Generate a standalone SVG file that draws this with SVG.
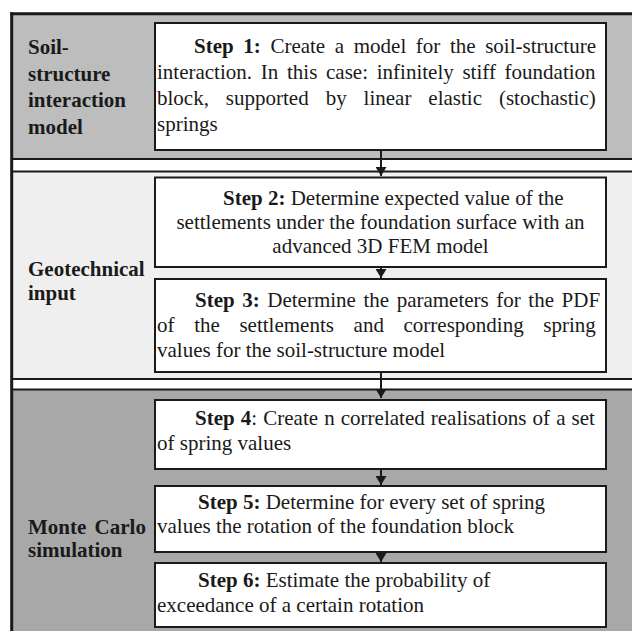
<svg xmlns="http://www.w3.org/2000/svg" width="632" height="631" viewBox="0 0 632 631">
<style>
text{font-family:"Liberation Serif","Times New Roman",serif;font-size:21px;fill:#1a1a1a}
.b{font-weight:bold}
.box{fill:#fff;stroke:#1a1a1a;stroke-width:2}
.sep{stroke:#1a1a1a;stroke-width:2}
.frame{stroke:#1a1a1a;stroke-width:3}
.conn{stroke:#1a1a1a;stroke-width:2;fill:none;marker-end:url(#ah)}
.m{text-anchor:middle}
</style>
<defs>
<marker id="ah" viewBox="0 0 9 11" markerUnits="userSpaceOnUse" markerWidth="9" markerHeight="11" refX="9" refY="5.5" orient="auto">
<path d="M0,0 L9,5.5 L0,11 z" fill="#1a1a1a"/>
</marker>
</defs>
<rect x="0" y="0" width="632" height="631" fill="#fff"/>

<g id="section1">
<rect x="11" y="13" width="621" height="146" fill="#bdbdbd"/>
<text class="b" x="28" y="54">Soil-</text>
<text class="b" x="28" y="80.7">structure</text>
<text class="b" x="28" y="107.4">interaction</text>
<text class="b" x="28" y="134">model</text>
</g>
<g id="section2">
<rect x="11" y="172" width="621" height="207" fill="#efefef"/>
<text class="b" x="28" y="276">Geotechnical</text>
<text class="b" x="28" y="300">input</text>
</g>
<g id="section3">
<rect x="11" y="390" width="621" height="241" fill="#a8a8a8"/>
<text class="b" x="28" y="534" word-spacing="3">Monte Carlo</text>
<text class="b" x="28" y="557">simulation</text>
</g>

<g id="frame">
<line class="frame" x1="10.2" y1="13.8" x2="632" y2="13.8"/>
<line class="frame" x1="11.7" y1="12.3" x2="11.7" y2="631"/>
<line class="sep" x1="11" y1="159" x2="632" y2="159"/>
<line class="sep" x1="11" y1="171.5" x2="632" y2="171.5"/>
<line class="sep" x1="11" y1="379" x2="632" y2="379"/>
<line class="sep" x1="11" y1="389.5" x2="632" y2="389.5"/>
</g>

<g id="step1">
<rect class="box" x="155" y="23" width="451" height="127"/>
<text x="194" y="53" word-spacing="4.36"><tspan class="b">Step 1:</tspan> Create a model for the soil-structure</text>
<text x="157" y="79" word-spacing="3.47">interaction. In this case: infinitely stiff foundation</text>
<text x="157" y="105" word-spacing="11.7">block, supported by linear elastic (stochastic)</text>
<text x="157" y="131">springs</text>
</g>

<g id="step2">
<rect class="box" x="155" y="177.5" width="451" height="89.5"/>
<text x="223" y="205"><tspan class="b">Step 2:</tspan> Determine expected value of the</text>
<text class="m" x="380.5" y="229">settlements under the foundation surface with an</text>
<text class="m" x="380.5" y="253">advanced 3D FEM model</text>
</g>

<g id="step3">
<rect class="box" x="155" y="279" width="451" height="93"/>
<text x="195" y="307" word-spacing="2.3"><tspan class="b">Step 3:</tspan> Determine the parameters for the PDF</text>
<text x="157" y="332" word-spacing="14.4">of the settlements and corresponding spring</text>
<text x="157" y="357">values for the soil-structure model</text>
</g>

<g id="step4">
<rect class="box" x="155" y="400" width="451" height="69"/>
<text x="195" y="425" word-spacing="0.86"><tspan class="b">Step 4</tspan>: Create n correlated realisations of a set</text>
<text x="157" y="450">of spring values</text>
</g>

<g id="step5">
<rect class="box" x="155" y="486" width="451" height="66"/>
<text x="198" y="509"><tspan class="b">Step 5:</tspan> Determine for every set of spring</text>
<text x="157" y="533">values the rotation of the foundation block</text>
</g>

<g id="step6">
<rect class="box" x="155" y="563" width="451" height="64"/>
<text x="198" y="587"><tspan class="b">Step 6:</tspan> Estimate the probability of</text>
<text x="157" y="612">exceedance of a certain rotation</text>
</g>

<g id="connectors">
<line class="conn" x1="381" y1="151" x2="381" y2="176"/>
<line class="conn" x1="381" y1="268" x2="381" y2="278"/>
<line class="conn" x1="381" y1="373" x2="381" y2="398"/>
<line class="conn" x1="381" y1="470" x2="381" y2="485"/>
<line class="conn" x1="381" y1="553" x2="381" y2="562"/>
</g>
</svg>
